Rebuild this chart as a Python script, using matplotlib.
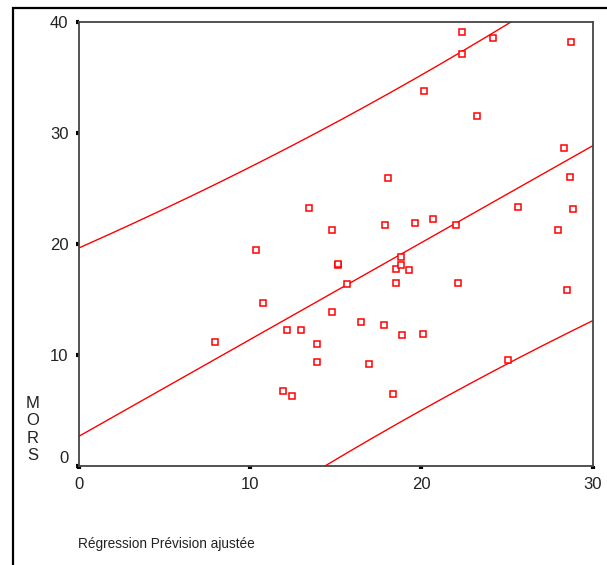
import matplotlib

matplotlib.use("Agg")
import matplotlib.pyplot as plt
import matplotlib.patches as mpatches
import numpy as np

fitted = [7.96, 10.33, 10.74, 12.14, 12.94, 11.93, 12.43, 13.46, 13.89, 13.89,
          14.79, 14.80, 15.12, 15.14, 15.68, 16.48, 16.93, 17.80, 17.88, 18.02,
          18.31, 18.54, 18.54, 18.83, 18.82, 18.89, 19.28, 19.61, 20.14, 20.08,
          20.68, 21.99, 22.16, 22.36, 22.36, 23.23, 24.20, 25.08, 25.66, 27.96,
          28.31, 28.52, 28.68, 28.76, 28.84]
mors = [11.14, 19.41, 14.63, 12.20, 12.20, 6.76, 6.28, 23.19, 10.99, 9.34,
        21.23, 13.87, 18.05, 18.17, 16.37, 12.95, 9.19, 12.65, 21.66, 25.92,
        6.43, 16.49, 17.69, 18.05, 18.83, 11.75, 17.66, 21.84, 33.82, 11.89,
        22.25, 21.66, 16.50, 39.14, 37.12, 31.53, 38.53, 9.50, 23.33, 21.23,
        28.65, 15.83, 26.07, 38.23, 23.15]

x_ticks = [0, 10, 20, 30]
y_ticks = [0, 10, 20, 30, 40]
t_crit = 2.017  # t(0.975, n-2)

FONT = ["Liberation Sans", "DejaVu Sans"]
RED = "#ff0000"

x = np.array(fitted)
y = np.array(mors)
n = len(x)
slope, intercept = np.polyfit(x, y, 1)
resid = y - (intercept + slope * x)
s = np.sqrt(np.sum(resid ** 2) / (n - 2))
sxx = np.sum((x - x.mean()) ** 2)

grid = np.linspace(0, 30, 300)
pred = intercept + slope * grid
half = t_crit * s * np.sqrt(1 + 1 / n + (grid - x.mean()) ** 2 / sxx)

fig = plt.figure(figsize=(6.07, 5.65), dpi=100)
ax = fig.add_axes([0.130, 0.1758, 0.8465, 0.7852])

ax.plot(grid, pred, color=RED, lw=1.0)
ax.plot(grid, pred + half, color=RED, lw=1.0)
ax.plot(grid, pred - half, color=RED, lw=1.0)
ax.plot(x, y, ls="none", marker="s", ms=5, mfc="white", mec=RED, mew=1.1)

ax.set_xlim(0, 30)
ax.set_ylim(0, 40)
ax.set_xticks(x_ticks)
ax.set_yticks(y_ticks)
for sp in ax.spines.values():
    sp.set_color("#444444")
    sp.set_linewidth(1.3)
ax.tick_params(direction="out", length=2.5, width=3, color="black")
ax.tick_params(axis="x", pad=6)
ax.tick_params(axis="y", pad=5)
for lab in ax.get_xticklabels() + ax.get_yticklabels():
    lab.set_family(FONT)
    lab.set_fontsize(12)
    lab.set_color("#222222")
ax.get_yticklabels()[0].set_verticalalignment("bottom")

fig.text(33 / 607, 1 - 463 / 565, "M\nO\nR\nS", family=FONT, fontsize=12,
         ha="center", va="bottom", linespacing=1.2, color="#222222")
fig.text(78 / 607, 1 - 548 / 565, "Régression Prévision ajustée", family=FONT,
         fontsize=9.8, ha="left", va="baseline", color="#222222")

# outer frame (right and bottom edges fall outside the picture)
frame = mpatches.Rectangle((13 / 607, -0.1), 1.2, 1 - 8 / 565 + 0.1,
                           transform=fig.transFigure, fill=False,
                           edgecolor="black", lw=1.6, clip_on=False)
fig.add_artist(frame)

fig.savefig("out.png", dpi=100)
